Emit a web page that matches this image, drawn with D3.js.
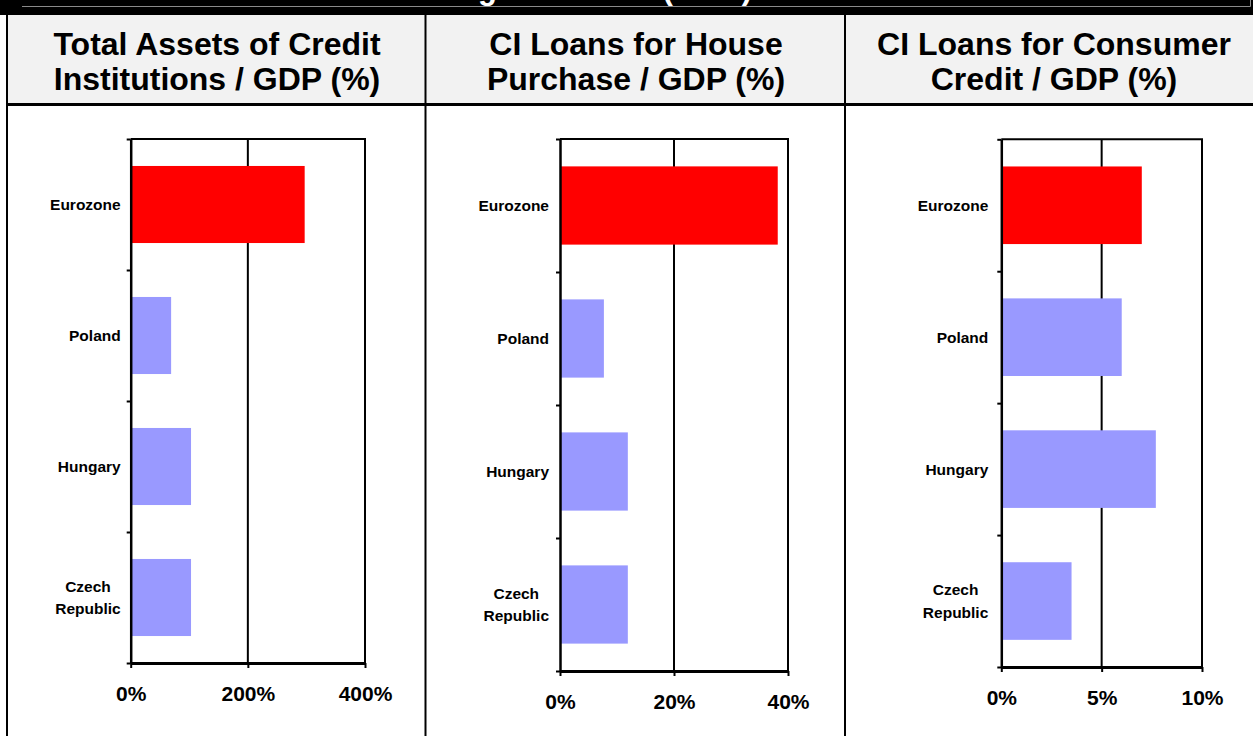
<!DOCTYPE html>
<html>
<head>
<meta charset="utf-8">
<script src="https://cdn.jsdelivr.net/npm/d3@7"></script>
<style>
  html, body { margin: 0; padding: 0; background: #fff; }
  svg { display: block; font-family: "Liberation Sans", Arial, sans-serif; }
</style>
</head>
<body>
<svg id="chart" width="1253" height="736"></svg>
<script>
// ---- data ----
const categories = ["Eurozone", "Poland", "Hungary", "Czech Republic"];
const totalAssetsPct = [297, 69, 103, 103];
const housePurchasePct = [38.2, 7.7, 11.9, 11.9];
const consumerCreditPct = [7.0, 6.0, 7.7, 3.5];
const assetsTicks = [0, 200, 400];
const houseTicks = [0, 20, 40];
const consumerTicks = [0, 5, 10];
const panelTitles = [
  ["Total Assets of Credit", "Institutions / GDP (%)"],
  ["CI Loans for House", "Purchase / GDP (%)"],
  ["CI Loans for Consumer", "Credit / GDP (%)"]
];
const slideTitle = "Banking Indicators (2005)";

// ---- layout ----
const W = 1253, H = 736;
const headerTop = 15, headerBottom = 104.5;
const highlight = "#ff0000", others = "#9999ff";

const panels = [
  { values: totalAssetsPct, ticks: assetsTicks, title: panelTitles[0],
    left: 7, right: 425.5, titleX: 217,
    x0: 130.7, x1: 365, top: 139, bottom: 663, labelGap: 10 },
  { values: housePurchasePct, ticks: houseTicks, title: panelTitles[1],
    left: 425.5, right: 845, titleX: 636,
    x0: 560, x1: 788, top: 139, bottom: 671, labelGap: 11 },
  { values: consumerCreditPct, ticks: consumerTicks, title: panelTitles[2],
    left: 845, right: W, titleX: 1054,
    x0: 1001.3, x1: 1202, top: 139.3, bottom: 667, labelGap: 13 }
];

const svg = d3.select("#chart");
svg.append("rect").attr("width", W).attr("height", H).attr("fill", "#fff");

// slide title band (text runs off the top edge)
svg.append("rect").attr("x", 0).attr("y", 0).attr("width", W).attr("height", headerTop).attr("fill", "#000");
svg.append("text")
  .attr("x", 752).attr("y", -1)
  .attr("text-anchor", "end")
  .attr("fill", "#fff")
  .attr("font-weight", "bold")
  .attr("font-size", 31)
  .text(slideTitle);
svg.append("path")
  .attr("d", `M22,6.5H1250.5V0`)
  .attr("fill", "none").attr("stroke", "#8a8a8a").attr("stroke-width", 1);

// header cells
svg.append("rect")
  .attr("x", 7).attr("y", headerTop)
  .attr("width", W - 7).attr("height", headerBottom - headerTop)
  .attr("fill", "#f2f2f2");

panels.forEach(p => {
  const g = svg.append("g");

  // panel title
  const t = g.append("text")
    .attr("text-anchor", "middle")
    .attr("font-weight", "bold")
    .attr("font-size", 32)
    .attr("fill", "#000");
  p.title.forEach((line, i) => {
    t.append("tspan").attr("x", p.titleX).attr("y", 54.5 + i * 35).text(line);
  });

  // scales
  const x = d3.scaleLinear()
    .domain([p.ticks[0], p.ticks[p.ticks.length - 1]])
    .range([p.x0, p.x1]);
  const gap = 1 - 1 / 1.7;
  const y = d3.scaleBand()
    .domain(categories)
    .range([p.top, p.bottom])
    .paddingInner(gap)
    .paddingOuter(gap / 2);
  const yEdge = d3.scaleLinear().domain([0, categories.length]).range([p.top, p.bottom]);

  // vertical gridlines behind the bars
  g.selectAll("line.grid")
    .data(p.ticks.filter(d => d > p.ticks[0]))
    .join("line")
    .attr("class", "grid")
    .attr("x1", d => x(d)).attr("x2", d => x(d))
    .attr("y1", p.top).attr("y2", p.bottom)
    .attr("stroke", "#000").attr("stroke-width", 2);
  g.append("line")
    .attr("x1", p.x0).attr("x2", p.x1 + 1)
    .attr("y1", p.top).attr("y2", p.top)
    .attr("stroke", "#000").attr("stroke-width", 2);

  // bars
  g.selectAll("rect.bar")
    .data(categories.map((c, i) => ({ c, v: p.values[i], i })))
    .join("rect")
    .attr("class", "bar")
    .attr("x", x(0))
    .attr("y", d => y(d.c))
    .attr("width", d => x(d.v) - x(0))
    .attr("height", y.bandwidth())
    .attr("fill", d => d.i === 0 ? highlight : others);

  // category axis: ticks on band boundaries
  const ya = g.append("g")
    .attr("transform", `translate(${p.x0},0)`)
    .call(d3.axisLeft(yEdge)
      .tickValues(d3.range(categories.length + 1))
      .tickSize(4).tickSizeOuter(0).tickFormat(""));
  ya.select(".domain").attr("stroke", "#000").attr("stroke-width", 2.5);
  ya.selectAll(".tick line").attr("stroke", "#000").attr("stroke-width", 2);

  // category labels
  categories.forEach(c => {
    const lines = c.split(" ");
    const isMulti = c === "Czech Republic";
    const parts = isMulti ? lines : [c];
    const cy = y(c) + y.bandwidth() / 2;
    const lab = g.append("text")
      .attr("font-weight", "bold")
      .attr("font-size", 15.5)
      .attr("fill", "#000");
    const lh = 22.5;
    const startY = cy - (parts.length - 1) * lh / 2 + 5.5;
    parts.forEach((s, i) => {
      lab.append("tspan").attr("y", startY + i * lh).text(s);
    });
    // center the lines on each other, block right-aligned to the axis
    const rightEdge = p.x0 - p.labelGap;
    let maxW = 0;
    lab.selectAll("tspan").each(function () {
      maxW = Math.max(maxW, this.getComputedTextLength());
    });
    lab.attr("text-anchor", "middle");
    lab.selectAll("tspan").attr("x", rightEdge - maxW / 2);
  });

  // value axis
  const xa = g.append("g")
    .attr("transform", `translate(0,${p.bottom})`)
    .call(d3.axisBottom(x)
      .tickValues(p.ticks)
      .tickSize(5).tickSizeOuter(0).tickPadding(18.5)
      .tickFormat(d => d + "%"));
  xa.select(".domain").attr("stroke", "#000").attr("stroke-width", 3);
  xa.selectAll(".tick line").attr("stroke", "#000").attr("stroke-width", 2);
  xa.selectAll(".tick text")
    .attr("font-family", "Liberation Sans, Arial, sans-serif")
    .attr("font-weight", "bold")
    .attr("font-size", 21)
    .attr("fill", "#000");
});

// table rules
const rules = svg.append("g").attr("stroke", "#000");
[7, 425.5, 845].forEach(xp => {
  rules.append("line")
    .attr("x1", xp).attr("x2", xp)
    .attr("y1", headerTop).attr("y2", H)
    .attr("stroke-width", 2);
});
rules.append("line")
  .attr("x1", 6).attr("x2", W)
  .attr("y1", headerBottom).attr("y2", headerBottom)
  .attr("stroke-width", 3);
</script>
</body>
</html>
